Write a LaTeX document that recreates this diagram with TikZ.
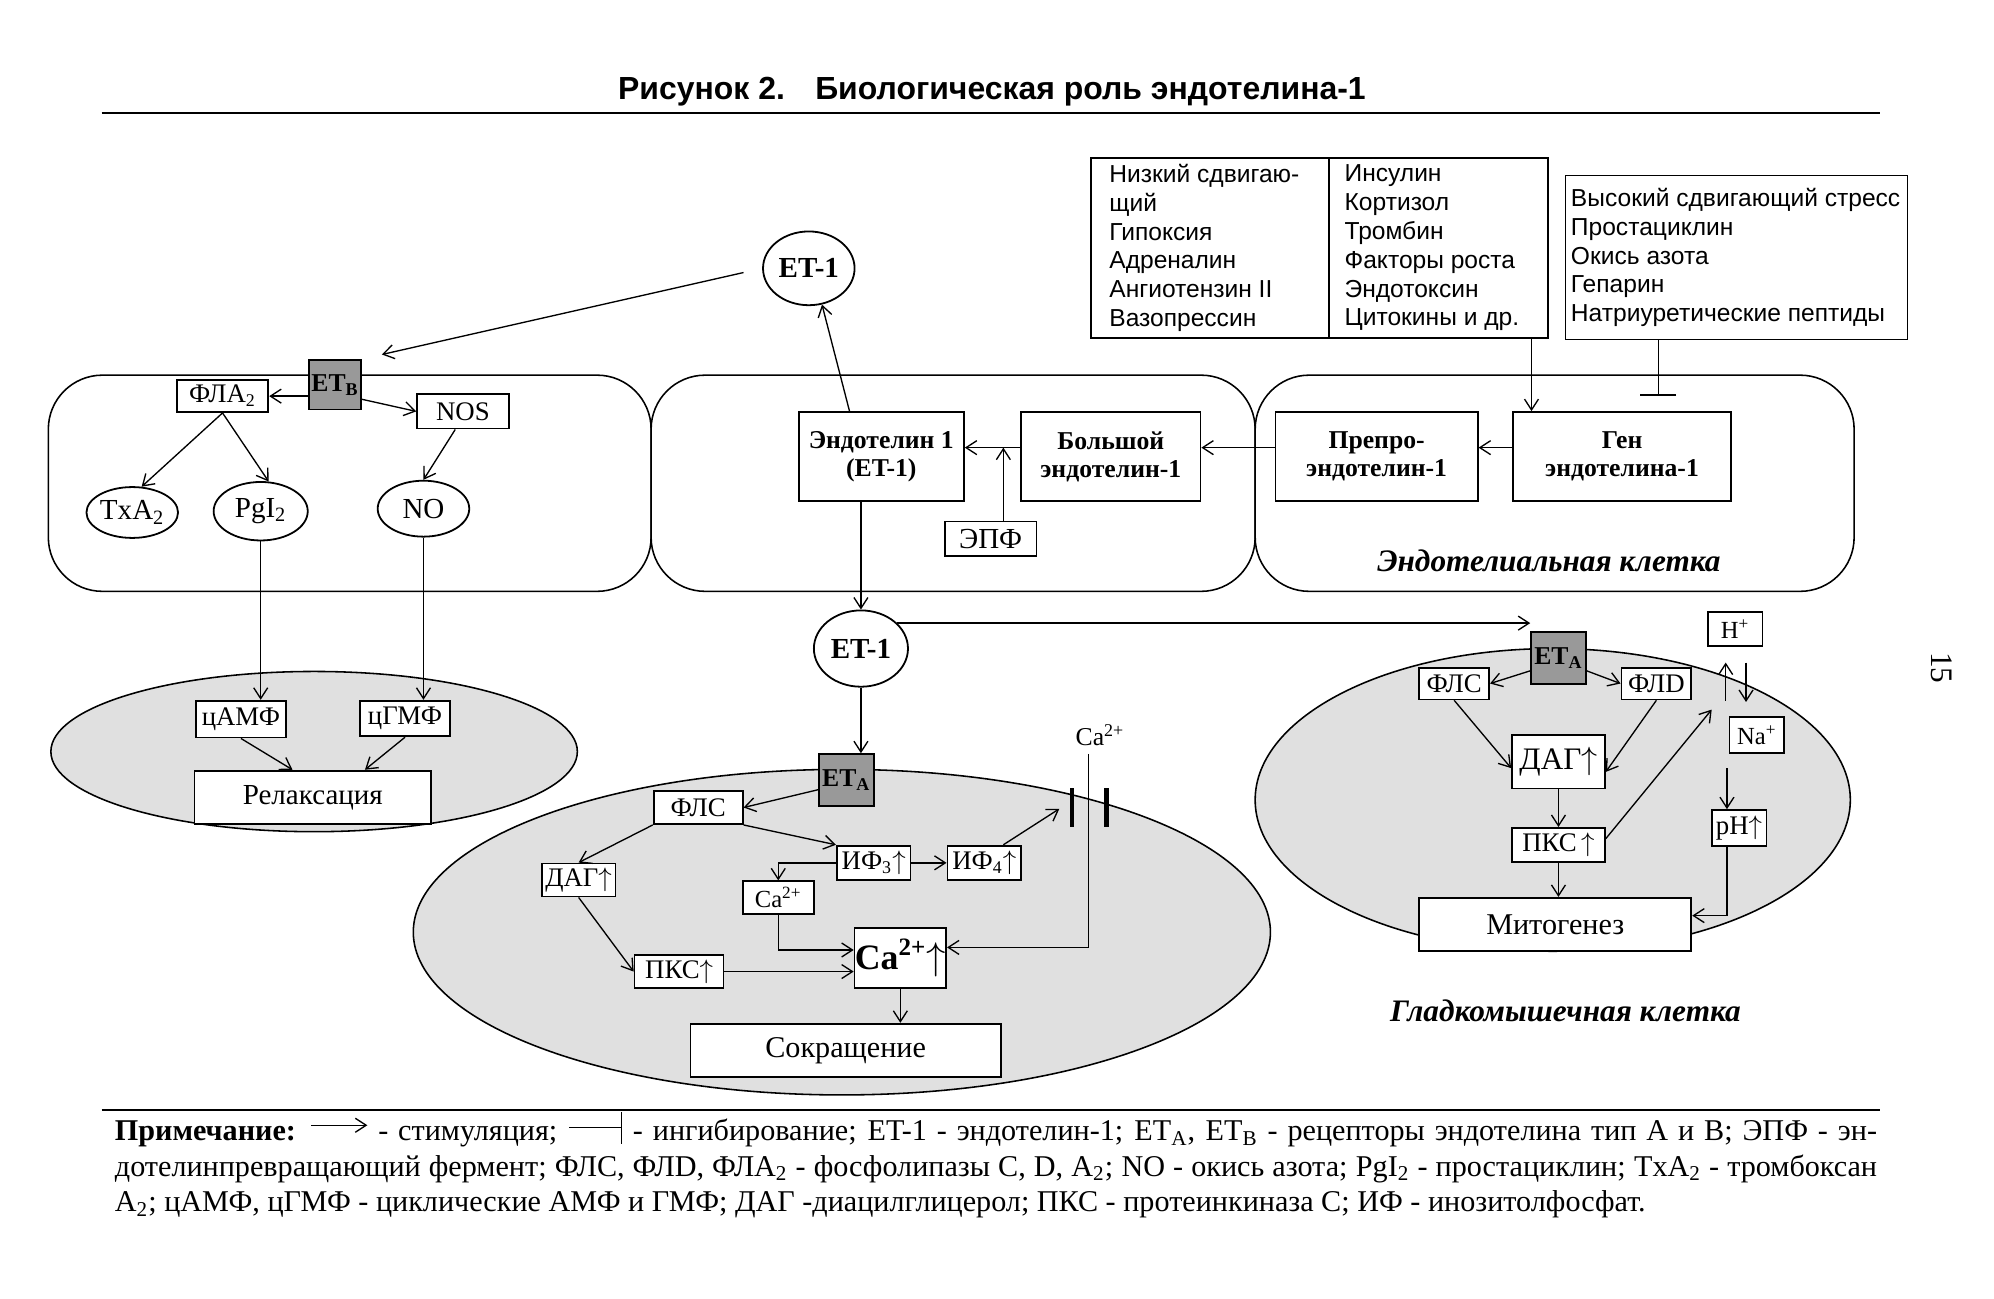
\documentclass[tikz,border=0pt]{standalone}
\usepackage{fontspec}
\setmainfont{Liberation Serif}
\setsansfont{Liberation Sans}
\usetikzlibrary{arrows.meta,shapes.geometric,positioning,calc}
\newcommand\upar{\ensuremath{\uparrow}}
\tikzset{
    >={Straight Barb[length=0.17cm,width=0.22cm]},
    font=\fontsize{12}{14}\selectfont,
    box/.style={draw,line width=0.8pt,fill=white,inner sep=0pt,align=center},
    bold box/.style={box,font=\fontsize{11.5}{12.5}\selectfont\bfseries},
    receptor/.style={box,fill=black!40,font=\fontsize{11.5}{13}\selectfont\bfseries},
    molecule/.style={ellipse,draw,line width=0.8pt,fill=white,inner sep=0pt,font=\fontsize{13}{15}\selectfont},
    frame/.style={draw,line width=0.8pt,fill=white,inner sep=0pt,outer sep=0pt},
    factor list/.style={inner sep=0pt,align=left,font=\sffamily\fontsize{11}{12.9}\selectfont},
    cell wall/.style={line width=0.7pt},
    cell label/.style={font=\fontsize{14}{16}\selectfont\bfseries\itshape},
    sz/.style 2 args={minimum width=#1*0.02cm,minimum height=#2*0.02cm},
    link/.style={->,line width=0.6pt},
}
\begin{document}
\begin{tikzpicture}[x=0.02cm,y=-0.02cm]
    \useasboundingbox (0,0) rectangle (1568,1020.7);
    \node[font=\sffamily\bfseries\fontsize{14.3}{16}\selectfont] (title) at (780,72) {Рисунок 2.\hspace{0.95em}Биологическая роль эндотелина-1};
    \draw[line width=0.8pt] (80,89) -- (1478,89);

    % cells
    \draw[cell wall,rounded corners=0.85cm] (38,295) rectangle (512,465);
    \draw[cell wall,rounded corners=0.85cm] (512,295) rectangle (987,465);
    \draw[cell wall,rounded corners=0.85cm] (987,295) rectangle (1458,465);
    \draw[cell wall,fill=black!12] (247,591) ellipse [x radius=207,y radius=63];
    \draw[cell wall,fill=black!12] (662,733) ellipse [x radius=337,y radius=128];
    \draw[cell wall,fill=black!12] (1221,629) ellipse [x radius=234,y radius=119];
    \node[cell label] (endocell) at (1218,441) {Эндотелиальная клетка};
    \node[cell label] (smcell) at (1231,795) {Гладкомышечная клетка};

    % factors
    \node[frame,sz={187}{142}] (stimA) at (951.5,195) {};
    \node[frame,sz={172}{142}] (stimB) at (1131,195) {};
    \node[factor list,right=0.28cm of stimA.west] (stimAtext) {Низкий сдвигаю-\\щий\\Гипоксия\\Адреналин\\Ангиотензин II\\Вазопрессин};
    \node[factor list,right=0.24cm of stimB.west] (stimBtext) {Инсулин\\Кортизол\\Тромбин\\Факторы роста\\Эндотоксин\\Цитокины и др.};
    \node[frame,sz={269}{129}] (inhib) at (1365.5,202.5) {};
    \node[factor list,right=0.08cm of inhib.west] (inhibtext) {Высокий сдвигающий стресс\\Простациклин\\Окись азота\\Гепарин\\Натриуретические пептиды};

    % endothelial cell
    \node[bold box,sz={171}{70}] (gene) at (1275.5,359) {Ген\\эндотелина-1};
    \node[bold box,sz={159}{70}] (prepro) at (1082.5,359) {Препро-\\эндотелин-1};
    \node[bold box,sz={141}{70}] (bigendo) at (873.5,359) {Большой\\эндотелин-1};
    \node[bold box,sz={130}{70}] (endo) at (693,359) {Эндотелин 1\\(ET-1)};
    \node[box,sz={72}{27},font=\fontsize{13}{15}\selectfont] (epf) at (779,423.5) {ЭПФ};
    \node[molecule,sz={72}{58},font=\fontsize{13}{15}\selectfont\bfseries] (et1top) at (636,211) {ET-1};
    \node[receptor,sz={41}{39}] (etb) at (263.5,302.5) {ET\textsubscript{B}};
    \coordinate (g1) at ($(gene.north west)+(15,0)$);
    \coordinate (gbar) at (1304,311);
    \coordinate (cleave) at (789,352);
    \draw[link] (stimB.south -| g1) -- (g1);
    \draw[line width=0.6pt,-{Bar[width=0.56cm,line width=0.8pt]}] (inhib.south -| gbar) -- (gbar);
    \draw[link] ([yshift=0.14cm]gene.west) -- ([yshift=0.14cm]prepro.east);
    \draw[link] ([yshift=0.14cm]prepro.west) -- ([yshift=0.14cm]bigendo.east);
    \draw[link] ([yshift=0.14cm]bigendo.west) -- ([yshift=0.14cm]endo.east);
    \draw[link] (epf.north -| cleave) -- (cleave);
    \draw[link] ([xshift=-0.5cm]endo.north) -- (et1top.290);
    \draw[link,shorten <=0.3cm,shorten >=0.32cm] (et1top.west) -- (etb.north east);

    % ET_B pathway
    \node[box,sz={72}{25}] (fla2) at (175,311.5) {ФЛА\textsubscript{2}};
    \node[box,sz={72}{27}] (nos) at (364,323.5) {NOS};
    \node[molecule,sz={72}{40}] (txa2) at (104,403) {TxA\textsubscript{2}};
    \node[molecule,sz={74}{46}] (pgi2) at (205,402) {PgI\textsubscript{2}};
    \node[molecule,sz={72}{44}] (no) at (333,400) {NO};
    \draw[link] (etb.west |- fla2) -- (fla2.east);
    \draw[link] ([yshift=-0.23cm]etb.east) -- (nos.west);
    \draw[link] (fla2.south) -- (txa2.70);
    \draw[link] (fla2.south) -- (pgi2.75);
    \draw[link] ([xshift=-0.12cm]nos.south) -- (no.north);

    % relaxation
    \node[box,sz={71}{29}] (camp) at (189.5,565.5) {цАМФ};
    \node[box,sz={71}{28}] (cgmp) at (318.5,565) {цГМФ};
    \node[box,sz={186}{42},font=\fontsize{13}{15}\selectfont] (relax) at (246,627) {Релаксация};
    \draw[link] (pgi2.south) -- (pgi2.south |- camp.north);
    \draw[link] (no.south) -- (no.south |- cgmp.north);
    \draw[link] (camp.south) -- ([xshift=-0.32cm]relax.north);
    \draw[link] (cgmp.south) -- ([xshift=0.82cm]relax.north);

    % ET-1 to muscle
    \node[molecule,sz={74}{60},font=\fontsize{13}{15}\selectfont\bfseries] (et1bot) at (677,510) {ET-1};
    \node[receptor,sz={43}{41}] (etac) at (665.5,613.5) {ET\textsubscript{A}};
    \node[receptor,sz={43}{41}] (etas) at (1225.5,517.5) {ET\textsubscript{A}};
    \draw[link] (et1bot.north |- endo.south) -- (et1bot.north);
    \draw[link] (et1bot.35) -- (et1bot.35 -| etas.west);
    \draw[link] (et1bot.south) -- (et1bot.south |- etac.north);

    % contraction
    \node[box,sz={70}{26}] (flsc) at (549,635) {ФЛС};
    \node[box,sz={58}{26}] (dagc) at (455,692) {ДАГ\upar};
    \node[box,sz={58}{27}] (ip3) at (687,678.5) {ИФ\textsubscript{3}\upar};
    \node[box,sz={58}{27}] (ip4) at (774,678.5) {ИФ\textsubscript{4}\upar};
    \node[box,sz={56}{26},font=\fontsize{11}{13}\selectfont] (ca2s) at (612,706) {Ca\textsuperscript{2+}};
    \node[box,sz={70}{26}] (pkcc) at (534,764) {ПКС\upar};
    \node[box,sz={72}{47},font=\fontsize{16}{18}\selectfont\bfseries] (caup) at (708,753.5) {Ca\textsuperscript{2+}\upar};
    \node[box,sz={244}{42},font=\fontsize{13.5}{15}\selectfont] (contr) at (665,826) {Сокращение};
    \node[font=\fontsize{11.5}{13}\selectfont] (caout) at (865,578) {Ca\textsuperscript{2+}};
    \coordinate (chan) at (856.5,635);
    \coordinate (caj) at (856,745);
    \coordinate (chin) at (833,636);
    \draw[line width=2pt] ($(chan)+(-13.5,-15)$) -- ($(chan)+(-13.5,15)$);
    \draw[line width=2pt] ($(chan)+(13.5,-15)$) -- ($(chan)+(13.5,15)$);
    \draw[link] ([yshift=-0.15cm]etac.west) -- (flsc.east);
    \draw[link] (flsc.south west) -- (dagc.north);
    \draw[link] (flsc.south east) -- (ip3.north west);
    \draw[link] (ip3.west) -| (ca2s.north);
    \draw[link] (ip3.east) -- (ip4.west);
    \draw[link] ([xshift=0.3cm]ip4.north) -- (chin);
    \draw[link] (caout.south -| caj) -- (caj) -- (caj -| caup.east);
    \draw[link] (ca2s.south) |- (caup.170);
    \draw[link] (dagc.south) -- (pkcc.west);
    \draw[link] (pkcc.east) -- (pkcc.east -| caup.west);
    \draw[link] (caup.south) -- (caup.south |- contr.north);

    % mitogenesis
    \node[box,sz={55}{25}] (flss) at (1143.5,537.5) {ФЛС};
    \node[box,sz={55}{25}] (flds) at (1302.5,537.5) {ФЛD};
    \node[box,sz={43}{27},font=\fontsize{11}{13}\selectfont] (hplus) at (1364.5,494.5) {H\textsuperscript{+}};
    \node[box,sz={43}{28},font=\fontsize{11}{13}\selectfont] (nap) at (1381.5,578) {Na\textsuperscript{+}};
    \node[box,sz={73}{42},font=\fontsize{14}{16}\selectfont] (dags) at (1225.5,599) {ДАГ\upar};
    \node[box,sz={73}{27}] (pkcs) at (1225.5,664.5) {ПКС\,\upar};
    \node[box,sz={43}{28}] (ph) at (1367.5,651) {pH\upar};
    \node[box,sz={214}{42},font=\fontsize{13.5}{15}\selectfont] (mito) at (1223,727) {Митогенез};
    \coordinate (hout) at (1357,551);
    \coordinate (hin) at (1373,521);
    \coordinate (pkto) at (1346,558);
    \coordinate (phx) at (1358,604);
    \draw[link] ([yshift=-0.2cm]etas.west) -- (flss.east);
    \draw[link] ([yshift=-0.2cm]etas.east) -- (flds.west);
    \draw[link] (hout) -- ++(0,-30);
    \draw[link] (hin) -- ++(0,31);
    \draw[link] (flss.south) -- ([yshift=-0.1cm]dags.west);
    \draw[link] (flds.south) -- ([yshift=-0.16cm]dags.east);
    \draw[link] (dags.south) -- (pkcs.north);
    \draw[link] ([yshift=0.1cm]pkcs.east) -- (pkto);
    \draw[link] (phx) -- (phx |- ph.north);
    \draw[link] (ph.south -| phx) |- ([yshift=0.14cm]mito.east);
    \draw[link] (pkcs.south) -- (pkcs.south |- mito.north);

    \node[rotate=-90,font=\fontsize{14}{16}\selectfont] (page) at (1527,525) {15};

    % legend
    \draw[line width=0.8pt] (80,873) -- (1478,873);
    \node[anchor=north west,inner sep=0pt,text width=27.72cm,align=justify,font=\fontsize{13.5}{15.9}\selectfont] (note) at (90,874) {\textbf{Примечание:} \tikz[baseline=-0.24cm]\draw[->,line width=0.6pt] (0,0) -- (0.88cm,0); - стимуляция; \tikz[baseline=-0.2cm]\draw[line width=0.6pt,-{Bar[width=0.5cm]}] (0,0) -- (0.84cm,0); - ингибирование; ET-1 - эндотелин-1; ET\textsubscript{A}, ET\textsubscript{B} - рецепторы эндотелина тип A и B; ЭПФ - эн-\linebreak дотелинпревращающий фермент; ФЛС, ФЛD, ФЛА\textsubscript{2} - фосфолипазы C, D, A\textsubscript{2}; NO - окись азота; PgI\textsubscript{2} - простациклин; TxA\textsubscript{2} - тромбоксан\linebreak A\textsubscript{2}; цАМФ, цГМФ - циклические АМФ и ГМФ; ДАГ -диацилглицерол; ПКС - протеинкиназа C; ИФ - инозитолфосфат.};
\end{tikzpicture}
\end{document}
